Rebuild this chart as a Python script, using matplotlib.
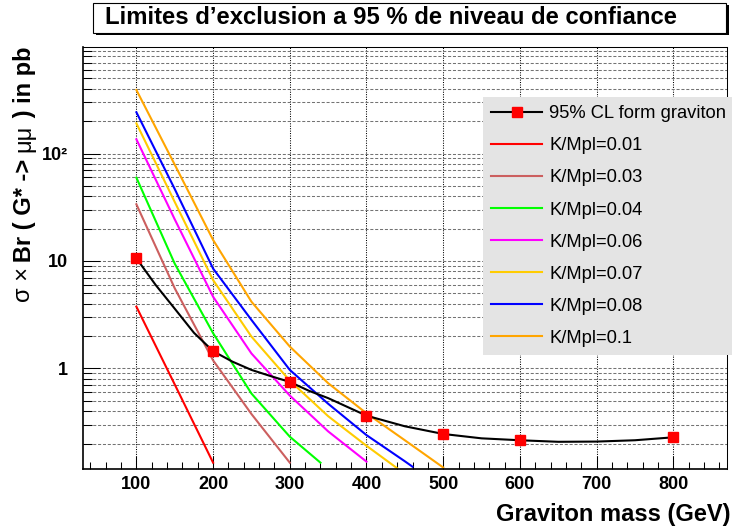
import matplotlib.pyplot as plt
from matplotlib.patches import Rectangle
from matplotlib.ticker import MultipleLocator, LogLocator, FuncFormatter, NullFormatter

plt.rcParams['font.family'] = ['Liberation Sans', 'DejaVu Sans']
plt.rcParams['lines.scale_dashes'] = False

W, H = 732, 528

# 95% CL limit on sigma x Br (pb)
mass_curve = [100, 125, 150, 175, 200, 225, 250, 275, 300, 325, 350, 400,
              450, 500, 550, 600, 650, 700, 750, 800]
limit_curve = [10.6, 6.0, 3.6, 2.15, 1.45, 1.16, 0.97, 0.85, 0.75, 0.62, 0.53, 0.364,
               0.29, 0.246, 0.224, 0.215, 0.208, 0.209, 0.215, 0.229]
# masses where the limit was actually computed (red squares)
mass_pts = [100, 200, 300, 400, 500, 600, 800]

# theory predictions for each coupling
k001_mass = [100, 150, 200]
k001_xsec = [3.76, 0.71, 0.133]
k003_mass = [100, 150, 200, 250, 300]
k003_xsec = [33.7, 5.57, 1.19, 0.377, 0.133]
k004_mass = [100, 150, 200, 250, 300, 340]
k004_xsec = [59.6, 9.44, 2.13, 0.585, 0.232, 0.133]
k006_mass = [100, 150, 200, 250, 300, 350, 400]
k006_xsec = [135.6, 24.4, 4.65, 1.38, 0.56, 0.26, 0.136]
k007_mass = [100, 150, 200, 250, 300, 350, 400, 440]
k007_xsec = [191, 35.4, 6.65, 1.98, 0.77, 0.36, 0.191, 0.118]
k008_mass = [100, 150, 200, 250, 300, 350, 400, 450, 460]
k008_xsec = [242, 46.7, 8.5, 2.83, 0.97, 0.47, 0.24, 0.137, 0.122]
k01_mass = [100, 150, 200, 250, 300, 350, 400, 450, 500]
k01_xsec = [390, 78.7, 15.7, 4.18, 1.6, 0.73, 0.383, 0.215, 0.12]

kmpl_labels = ['K/Mpl=0.01', 'K/Mpl=0.03', 'K/Mpl=0.04', 'K/Mpl=0.06',
               'K/Mpl=0.07', 'K/Mpl=0.08', 'K/Mpl=0.1']
kmpl_colors = ['#ff0000', '#cc5f5f', '#00ff00', '#ff00ff', '#ffcc00', '#0000ff', '#ffa500']
kmpl_mass = [k001_mass, k003_mass, k004_mass, k006_mass, k007_mass, k008_mass, k01_mass]
kmpl_xsec = [k001_xsec, k003_xsec, k004_xsec, k006_xsec, k007_xsec, k008_xsec, k01_xsec]

fig = plt.figure(figsize=(W / 100, H / 100), dpi=100)
ax = fig.add_axes([82.7 / W, (H - 468.5) / H, (727 - 82.7) / W, (468.5 - 47) / H])

handles = []
marks = [mass_curve.index(m) for m in mass_pts]
h, = ax.plot(mass_curve, limit_curve, color='black', lw=1.5, marker='s', ms=7,
             mfc='red', mec='red', markevery=marks, label='95% CL form graviton', zorder=5)
handles.append(h)
for m, s, c, lab in zip(kmpl_mass, kmpl_xsec, kmpl_colors, kmpl_labels):
    h, = ax.plot(m, s, color=c, lw=1.5, label=lab)
    handles.append(h)

ax.set_yscale('log')
ax.set_xlim(30, 870)
ax.set_ylim(0.1174, 979)

ax.xaxis.set_major_locator(MultipleLocator(100))
ax.xaxis.set_minor_locator(MultipleLocator(20))
ax.yaxis.set_major_locator(LogLocator(base=10))
ax.yaxis.set_minor_locator(LogLocator(base=10, subs=range(2, 10)))
ylab = {1: '1', 10: '10', 100: '10²'}
ax.yaxis.set_major_formatter(FuncFormatter(lambda v, p: ylab.get(round(v, 6), '')))
ax.yaxis.set_minor_formatter(NullFormatter())

ax.tick_params(axis='both', which='both', direction='in', top=False, right=False, width=0.75)
ax.tick_params(axis='x', which='major', length=9.5, pad=5.5, labelsize=13)
ax.tick_params(axis='x', which='minor', length=4.8)
ax.tick_params(axis='y', which='major', length=12.2, pad=10.5, labelsize=13)
ax.tick_params(axis='y', which='minor', length=6.5)
for lab in ax.get_xticklabels() + ax.get_yticklabels():
    lab.set_fontweight('bold')

ax.set_axisbelow(True)
ax.xaxis.grid(True, which='major', color='black', lw=0.75, linestyle=(0, (0.75, 1.0)))
ax.yaxis.grid(True, which='both', color='0.45', lw=0.75, linestyle=(0, (2.2, 1.3)))

for side in ['left', 'bottom']:
    ax.spines[side].set_linewidth(1.2)
for side in ['top', 'right']:
    ax.spines[side].set_linewidth(0.75)

leg = ax.legend(handles=handles, loc='upper left',
                bbox_to_anchor=(483 / W, 1 - 97 / H, (W - 483) / W, 0.0),
                bbox_transform=fig.transFigure, mode='expand', borderaxespad=0,
                fontsize=13.2, fancybox=False, facecolor='#e4e4e4', edgecolor='none',
                framealpha=1, handlelength=2.75, handletextpad=0.4, labelspacing=0.82,
                borderpad=0.46, numpoints=1)

# title box with shadow
fig.patches.append(Rectangle((95.5 / W, 1 - 34.5 / H), (726 - 93) / W, 29.5 / H,
                             transform=fig.transFigure, fc='black', ec='none'))
fig.patches.append(Rectangle((93 / W, 1 - 32.5 / H), (726 - 93) / W, 29.5 / H,
                             transform=fig.transFigure, fc='white', ec='black', lw=0.8))
fig.text(105 / W, 1 - 24.5 / H, 'Limites d’exclusion a 95 % de niveau de confiance',
         ha='left', va='baseline', fontsize=17.2, fontweight='bold')

fig.text(730 / W, 7.5 / H, 'Graviton mass (GeV)', ha='right', va='baseline',
         fontsize=17, fontweight='bold')

# y title: symbols in a light face, the rest bold, stacked from the top of the axis down
ytitle_parts = [('σ ×', 'normal'), ('\u2009Br ( G* -> ', 'bold'), ('μμ', 'normal'), (' ) in pb', 'bold')]
renderer = fig.canvas.get_renderer()
pieces = []
for txt, wt in ytitle_parts:
    t = fig.text(24 / W, 0, txt, rotation=90, ha='center', va='bottom',
                 fontsize=17, fontweight=wt)
    pieces.append((t, t.get_window_extent(renderer).height))
y_px = (H - 47) - sum(hp for _, hp in pieces)
for t, hp in pieces:
    t.set_y(y_px / H)
    y_px += hp

fig.savefig('out.png', dpi=100)
